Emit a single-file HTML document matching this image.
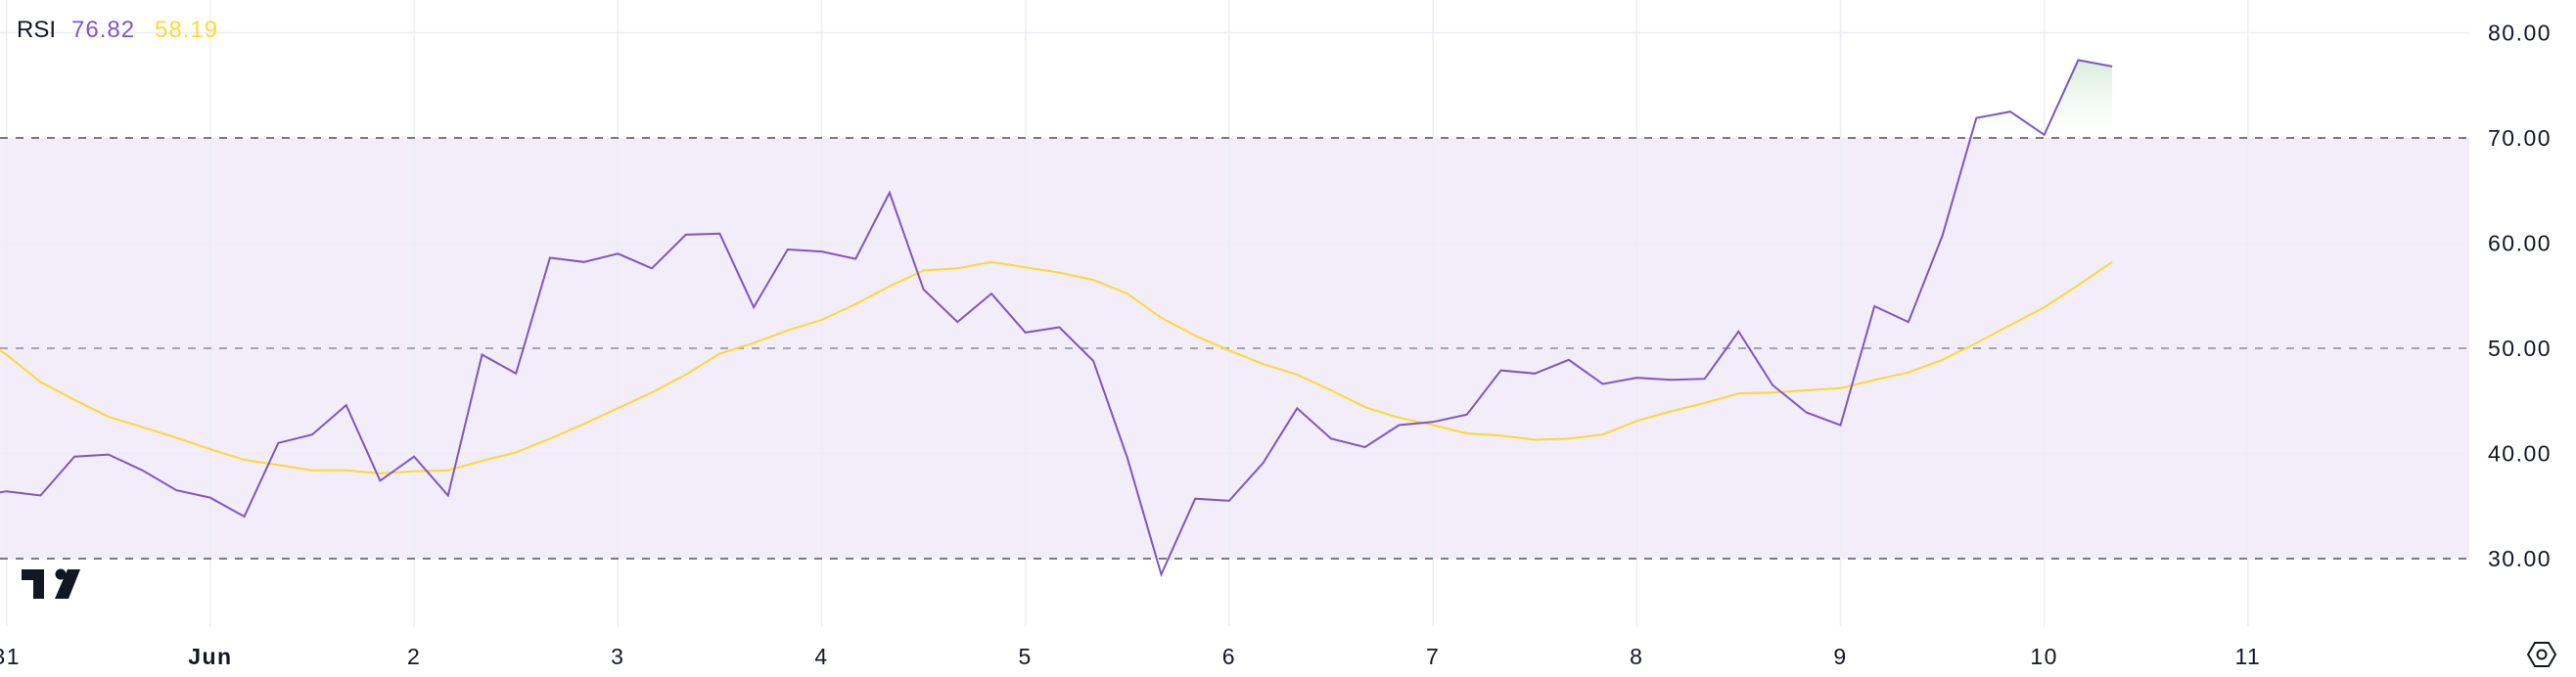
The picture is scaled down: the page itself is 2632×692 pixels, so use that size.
<!DOCTYPE html>
<html><head><meta charset="utf-8"><style>
html,body{margin:0;padding:0;background:#fff;}
svg{display:block;font-family:"Liberation Sans",sans-serif;}
</style></head><body>
<svg id="s" width="2632" height="692" xmlns="http://www.w3.org/2000/svg">
<defs>
<linearGradient id="g" x1="0" y1="55" x2="0" y2="141" gradientUnits="userSpaceOnUse">
<stop offset="0" stop-color="#c8e6c9" stop-opacity="0.8"/>
<stop offset="1" stop-color="#e8f5e9" stop-opacity="0"/>
</linearGradient>
<clipPath id="above"><rect x="0" y="0" width="2523" height="141"/></clipPath>
</defs>
<rect x="0" y="141" width="2523" height="430" fill="#f2edf9"/>
<g id="grid" stroke="#eceef3" stroke-width="1.5"></g>
<g id="lines"></g>
<g id="labels" font-size="23" fill="#131722" letter-spacing="1.5"></g>
<text x="17" y="38" font-size="24" fill="#131722">RSI</text>
<text x="73" y="38" font-size="24" fill="#7e57c2" letter-spacing="1">76.82</text>
<text x="158" y="38" font-size="24" fill="#fdd835" letter-spacing="1">58.19</text>
<g fill="#131722">
<rect x="22" y="582" width="23" height="11"/>
<rect x="34" y="582" width="11" height="30"/>
<circle cx="62" cy="587" r="5.5"/>
<polygon points="69,582 82,582 70,612 56,612"/>
</g>
<polygon points="2583,669 2590,657 2604,657 2611,669 2604,681 2590,681" fill="none" stroke="#131722" stroke-width="2"/>
<circle cx="2597" cy="669" r="4.5" fill="none" stroke="#131722" stroke-width="2"/>
</svg>
<script>
var NS="http://www.w3.org/2000/svg";
function el(n,a,p){var e=document.createElementNS(NS,n);for(var k in a)e.setAttribute(k,a[k]);p.appendChild(e);return e;}
var s=document.getElementById('s'),grid=document.getElementById('grid'),lines=document.getElementById('lines'),labels=document.getElementById('labels');
function Y(v){return 141+(70-v)*10.75;}
function X(i){return 6.7+34.7*i;}
var days=["31","Jun","2","3","4","5","6","7","8","9","10","11"];
for(var d=0;d<days.length;d++){var x=6.7+208.2*d;el('line',{x1:x,y1:0,x2:x,y2:640},grid);
 var t=el('text',{x:x,y:679,'text-anchor':'middle'},labels);t.textContent=days[d];if(days[d]=="Jun")t.setAttribute('font-weight','bold');}
[80,60,40].forEach(function(v){el('line',{x1:0,y1:Y(v),x2:2523,y2:Y(v)},grid);});
[80,70,60,50,40,30].forEach(function(v){var t=el('text',{x:2542,y:Y(v)+8},labels);t.textContent=v+".00";});
el('line',{x1:0,y1:Y(70),x2:2523,y2:Y(70),stroke:'#787b86','stroke-width':2,'stroke-dasharray':'8 8'},lines);
el('line',{x1:0,y1:Y(50),x2:2523,y2:Y(50),stroke:'#a3a6af','stroke-width':2,'stroke-dasharray':'8 8'},lines);
el('line',{x1:0,y1:Y(30),x2:2523,y2:Y(30),stroke:'#787b86','stroke-width':2,'stroke-dasharray':'8 8'},lines);
var rsi=[36.4,36.0,39.7,39.9,38.4,36.5,35.8,34.0,41.0,41.8,44.6,37.4,39.7,36.0,49.4,47.6,58.6,58.2,59.0,57.6,60.8,60.9,53.9,59.4,59.2,58.5,64.8,55.6,52.5,55.2,51.5,52.0,48.8,39.6,28.5,35.7,35.5,39.1,44.3,41.4,40.6,42.7,43.0,43.7,47.9,47.6,48.9,46.6,47.2,47.0,47.1,51.6,46.5,43.9,42.7,54.0,52.5,60.7,71.9,72.5,70.3,77.4,76.8];
var ma=[49.4,46.8,45.1,43.5,42.5,41.5,40.4,39.4,38.9,38.4,38.4,38.1,38.3,38.4,39.3,40.1,41.4,42.8,44.3,45.8,47.5,49.5,50.5,51.7,52.7,54.2,55.9,57.4,57.6,58.2,57.7,57.2,56.5,55.2,52.9,51.2,49.8,48.5,47.5,46.0,44.4,43.4,42.7,41.9,41.7,41.3,41.4,41.8,43.1,44.0,44.8,45.7,45.8,46.0,46.2,47.0,47.7,48.9,50.5,52.2,53.9,56.0,58.2];
var rp="0,"+Y(36.3)+" ",mp="0,"+Y(49.8)+" ";
for(var i=0;i<rsi.length;i++){rp+=X(i).toFixed(1)+","+Y(rsi[i]).toFixed(1)+" ";mp+=X(i).toFixed(1)+","+Y(ma[i]).toFixed(1)+" ";}
var last=rsi.length-1;
el('polygon',{points:rp+X(last).toFixed(1)+","+Y(70)+" 0,"+Y(70),fill:'url(#g)','clip-path':'url(#above)'},lines);
el('polyline',{points:mp,fill:'none',stroke:'#fdd835','stroke-width':2},lines);
el('polyline',{points:rp,fill:'none',stroke:'#7e57c2','stroke-width':2},lines);
</script>
</body></html>
